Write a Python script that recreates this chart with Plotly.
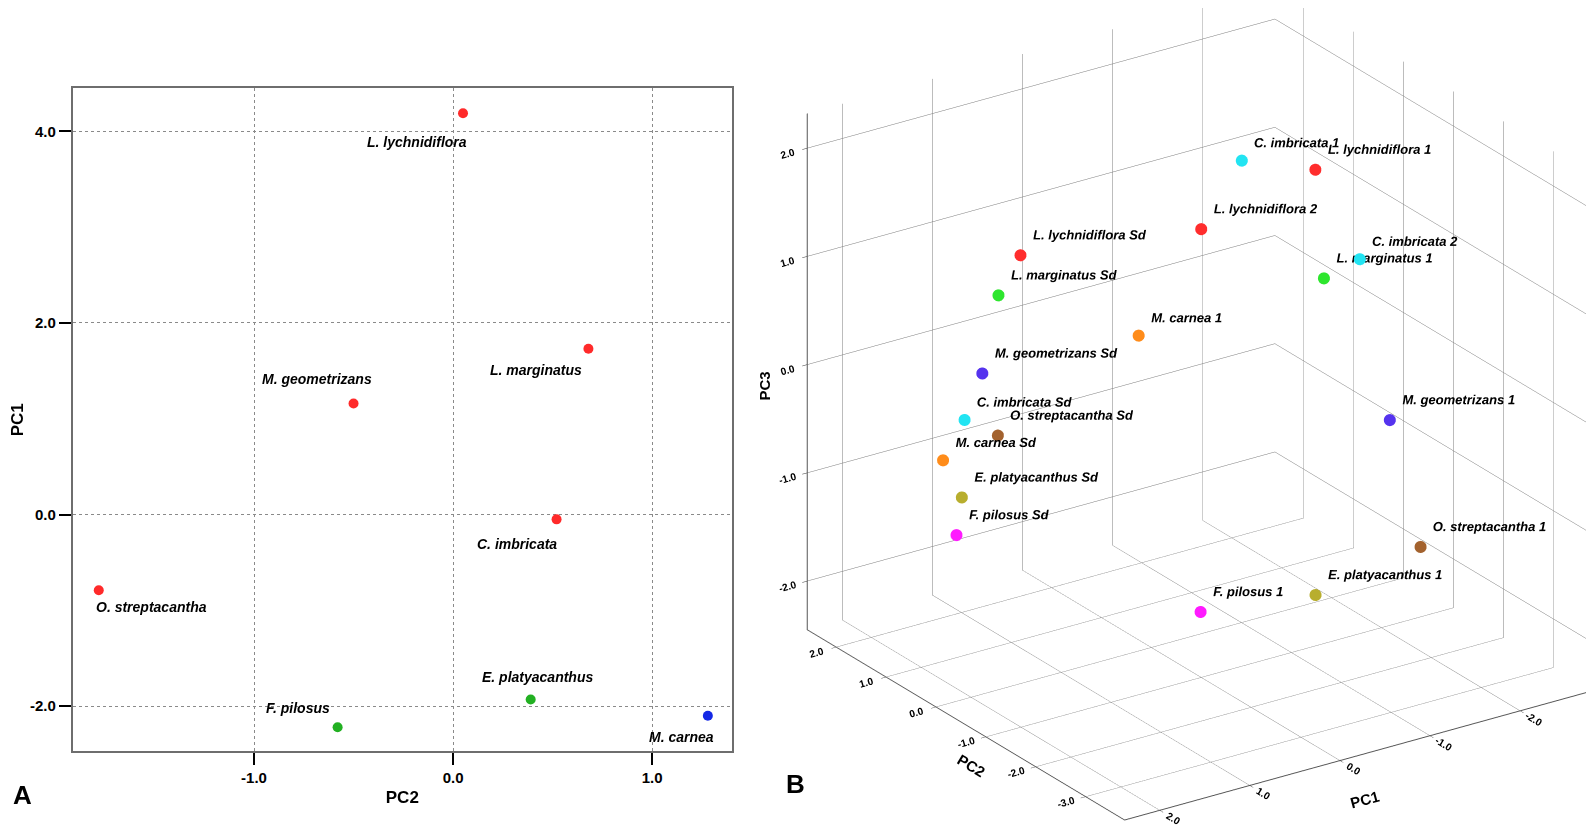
import plotly.graph_objects as go

# ---- panel A: species scores, PC2 (x) against PC1 (y) ----
species_a = ["L. lychnidiflora", "L. marginatus", "M. geometrizans", "C. imbricata",
             "O. streptacantha", "E. platyacanthus", "F. pilosus", "M. carnea"]
pc2_a = [0.05, 0.68, -0.50, 0.52, -1.78, 0.39, -0.58, 1.28]
pc1_a = [4.19, 1.73, 1.16, -0.05, -0.79, -1.93, -2.22, -2.10]
group_a = [1, 1, 1, 1, 1, 2, 2, 3]
xticks_a = [-1.0, 0.0, 1.0]
yticks_a = [-2.0, 0.0, 2.0, 4.0]

# ---- panel B: population / seedling scores on PC1-PC3 ----
labels_b = ["C. imbricata 1", "L. lychnidiflora 1", "L. lychnidiflora 2", "L. lychnidiflora Sd",
            "C. imbricata 2", "L. marginatus 1", "L. marginatus Sd", "M. carnea 1",
            "M. geometrizans Sd", "M. geometrizans 1", "C. imbricata Sd", "O. streptacantha Sd",
            "M. carnea Sd", "E. platyacanthus Sd", "F. pilosus Sd", "O. streptacantha 1",
            "E. platyacanthus 1", "F. pilosus 1"]
pc1_b = [-1.03, -1.57, -0.58, 0.85, -1.72, -1.41, 1.10, 0.12, 1.39, -1.61,
         1.62, 1.40, 1.87, 1.80, 1.92, -1.58, -0.68, 0.23]
pc2_b = [0.05, -0.45, 0.05, 1.09, -1.07, -0.91, 1.08, 0.04, 0.88, -1.87,
         0.82, 0.55, 0.80, 0.55, 0.44, -2.54, -2.06, -1.40]
pc3_b = [1.80, 1.73, 1.27, 1.07, 1.04, 0.89, 0.76, 0.45, 0.16, -0.20,
         -0.20, -0.32, -0.51, -0.80, -1.09, -1.18, -1.55, -1.68]
pc1_ticks_b = [-2.0, -1.0, 0.0, 1.0, 2.0]
pc2_ticks_b = [-3.0, -2.0, -1.0, 0.0, 1.0, 2.0]
pc3_ticks_b = [-2.0, -1.0, 0.0, 1.0, 2.0]

GROUP_COLORS = {1: "#ff2a2a", 2: "#22b022", 3: "#1428e6"}
SPECIES_COLORS = {
    "C. imbricata": "#22e4f2", "L. lychnidiflora": "#ff2d2d", "L. marginatus": "#2ee62e",
    "M. carnea": "#ff8c1a", "M. geometrizans": "#5533ee", "O. streptacantha": "#a3622e",
    "E. platyacanthus": "#b8ae2e", "F. pilosus": "#ff1aff",
}
# where each label in panel A sits relative to its point (anchor, dx, dy in px)
LABEL_OFFSETS_A = {
    "L. lychnidiflora": ("right", 6, -29), "L. marginatus": ("right", -4, -21),
    "M. geometrizans": ("right", 20, 24), "C. imbricata": ("right", 2, -25),
    "O. streptacantha": ("left", -5, -17), "E. platyacanthus": ("center", 7, 22),
    "F. pilosus": ("right", -6, 19), "M. carnea": ("right", 8, -21),
}
# 3D axis titles drawn as page text (x px, y px, angle) so they can be rotated like SPSS does
TITLES_B = {"PC3": (754, 378, -90), "PC2": (962, 757, 31), "PC1": (1356, 791, -15)}

FONT = "Liberation Sans Narrow, Liberation Sans, Arial"
W, H = 1594, 836


def tick_text(vals):
    # SPSS prints a plain hyphen, not the unicode minus plotly uses
    return [f"{v:.1f}" for v in vals]


fig = go.Figure()

fig.add_trace(go.Scatter(
    x=pc2_a, y=pc1_a, mode="markers",
    marker=dict(size=10, color=[GROUP_COLORS[g] for g in group_a]),
    xaxis="x", yaxis="y", hoverinfo="skip", showlegend=False,
))

annotations = []
for name, xv, yv in zip(species_a, pc2_a, pc1_a):
    anchor, dx, dy = LABEL_OFFSETS_A[name]
    annotations.append(dict(
        x=xv, y=yv, xref="x", yref="y", text=f"<b><i>{name}</i></b>", showarrow=False,
        xanchor=anchor, yanchor="middle", xshift=dx, yshift=dy,
        font=dict(family=FONT, size=14, color="black"),
    ))

species_b = [lbl.rsplit(" ", 1)[0] for lbl in labels_b]
fig.add_trace(go.Scatter3d(
    x=pc2_b, y=pc1_b, z=pc3_b, mode="markers+text",
    text=labels_b, textposition="top right",
    textfont=dict(family=FONT, size=13, color="black", weight="bold", style="italic"),
    marker=dict(size=7, color=[SPECIES_COLORS[s] for s in species_b], line=dict(width=0)),
    scene="scene", hoverinfo="skip", showlegend=False,
))

axis_a = dict(
    showgrid=True, gridcolor="#8a8a8a", griddash="dot", gridwidth=1,
    zeroline=False, showline=True, linecolor="#6e6e6e", linewidth=2, mirror=True,
    ticks="outside", ticklen=12, tickwidth=2, tickcolor="black",
    tickfont=dict(family=FONT, size=15, color="black", weight="bold"),
    title_font=dict(family=FONT, size=17, color="black", weight="bold"),
)

axis_b = dict(
    showbackground=False, gridcolor="#7a7a7a", gridwidth=1, zeroline=False,
    showline=True, linecolor="#555555", linewidth=2, showspikes=False,
    ticks="outside", ticklen=6, tickcolor="#333333",
    tickfont=dict(family=FONT, size=11, color="black", weight="bold"),
    title=dict(text=""),
)

# view: looking from the (PC2 min, PC1 max) corner, about 24 deg above the floor
eye_dir = (-0.756, 0.513, 0.407)
eye_dist = 3.0
look_at = (0.0064, 0.0513, -0.0518)
box = 1.352  # orthographic zoom is driven by the aspect ratio

for text, (px, py, ang) in TITLES_B.items():
    annotations.append(dict(
        text=f"<b>{text}</b>", x=px / W, y=1 - py / H, xref="paper", yref="paper",
        showarrow=False, textangle=ang, xanchor="center", yanchor="middle",
        font=dict(family=FONT, size=15, color="black"),
    ))

fig.update_layout(
    width=W, height=H,
    margin=dict(l=0, r=0, t=0, b=0),
    paper_bgcolor="white", plot_bgcolor="white",
    xaxis=dict(axis_a, domain=[0.0389, 0.453], range=[-1.91, 1.40],
               tickvals=xticks_a, ticktext=tick_text(xticks_a),
               title=dict(text="PC2", standoff=6)),
    yaxis=dict(axis_a, domain=[0.111, 0.904], range=[-2.47, 4.45],
               tickvals=yticks_a, ticktext=tick_text(yticks_a),
               title=dict(text="PC1", standoff=10)),
    scene=dict(
        domain=dict(x=[0.47, 1.0], y=[0.0, 1.0]),
        xaxis=dict(axis_b, range=[-3.78, 2.58], tickvals=pc2_ticks_b,
                   ticktext=tick_text(pc2_ticks_b)),
        yaxis=dict(axis_b, range=[-2.8, 2.39], tickvals=pc1_ticks_b,
                   ticktext=tick_text(pc1_ticks_b)),
        zaxis=dict(axis_b, range=[-2.45, 2.32], tickvals=pc3_ticks_b,
                   ticktext=tick_text(pc3_ticks_b)),
        aspectmode="manual", aspectratio=dict(x=box, y=box, z=box),
        camera=dict(
            eye=dict(x=look_at[0] + eye_dir[0] * eye_dist,
                     y=look_at[1] + eye_dir[1] * eye_dist,
                     z=look_at[2] + eye_dir[2] * eye_dist),
            up=dict(x=0, y=0, z=1),
            center=dict(x=look_at[0], y=look_at[1], z=look_at[2]),
            projection=dict(type="orthographic"),
        ),
    ),
    annotations=annotations + [
        dict(text="<b>A</b>", x=12 / W, y=1 - 787 / H, xref="paper", yref="paper",
             showarrow=False, xanchor="center", yanchor="middle",
             font=dict(family=FONT, size=26, color="black")),
        dict(text="<b>B</b>", x=786 / W, y=1 - 776 / H, xref="paper", yref="paper",
             showarrow=False, xanchor="center", yanchor="middle",
             font=dict(family=FONT, size=26, color="black")),
    ],
)

fig.write_html("out.html")
